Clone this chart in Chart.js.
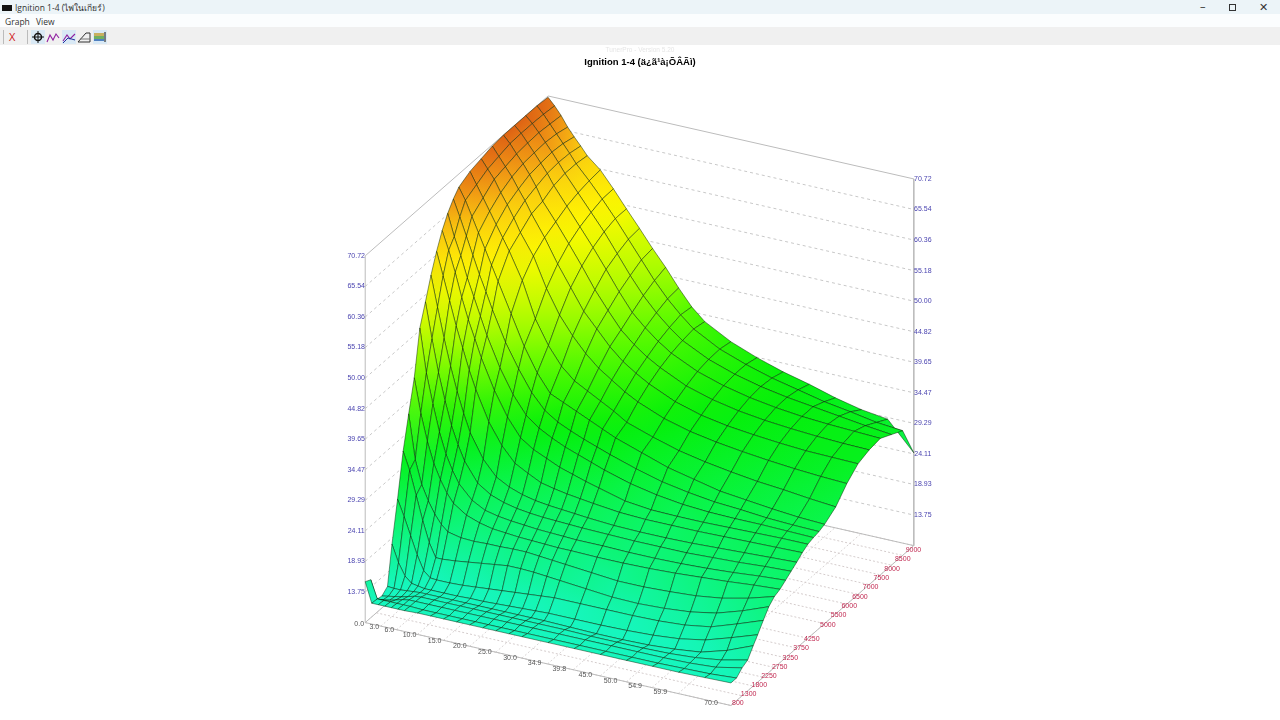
<!DOCTYPE html>
<html><head><meta charset="utf-8">
<style>
html,body{margin:0;padding:0;background:#fff;width:1280px;height:720px;overflow:hidden;font-family:"Open Sans","Noto Sans",sans-serif}
#chartCanvas{position:absolute;left:0;top:0}
.bar{position:absolute;left:0;width:1280px}
.t{position:absolute;white-space:nowrap;color:#333;font-size:8.5px;line-height:12px}
.ic{position:absolute;top:30px;width:14px;height:14px}
.ic svg{display:block}
.on{background:#d9e9f5}
</style></head><body>
<canvas id="chartCanvas" width="1280" height="720"></canvas>
<div class="bar" style="top:0;height:14px;background:#ecf4f8"></div>
<div class="bar" style="top:14px;height:13px;background:#fbfdfe"></div>
<div class="bar" style="top:27px;height:18px;background:#f0f0f0"></div>
<div style="position:absolute;left:2px;top:5px;width:10px;height:6px;background:#111"></div>
<div class="t" style="left:15px;top:2px">Ignition 1-4 (ไฟในเกียร์)</div>
<div class="t" style="left:5px;top:16px">Graph</div>
<div class="t" style="left:36px;top:16px">View</div>
<div class="t" style="left:1200px;top:0;font-size:11px">–</div>
<div style="position:absolute;left:1229px;top:4px;width:5px;height:5px;border:1px solid #333"></div>
<div class="t" style="left:1259px;top:1px;font-size:11px">✕</div>
<div style="position:absolute;left:3px;top:30px;width:1px;height:14px;background:#bbb"></div>
<div style="position:absolute;left:27px;top:30px;width:1px;height:14px;background:#bbb"></div>
<div class="t" style="left:9px;top:31px;font-size:11px;color:#d01818">X</div>
<div class="ic on" style="left:31px"><svg width="14" height="14"><circle cx="7" cy="7" r="3.5" fill="none" stroke="#111" stroke-width="1.5"/><path d="M7 1v12M1 7h12" stroke="#111"/></svg></div>
<div class="ic" style="left:46px"><svg width="14" height="14"><path d="M1 12L4 5L7 10L10 4L13 8" fill="none" stroke="#9020a0" stroke-width="1.1"/></svg></div>
<div class="ic on" style="left:62px"><svg width="14" height="14"><path d="M1 11L5 5L8 9L13 4" fill="none" stroke="#9020a0" stroke-width="1.1"/><path d="M1 13L6 8L13 10" fill="none" stroke="#2030a0"/></svg></div>
<div class="ic" style="left:77px"><svg width="14" height="14"><path d="M1 12L9 3L13 3L13 12Z" fill="none" stroke="#333"/><path d="M3 9H13" stroke="#777"/></svg></div>
<div class="ic on" style="left:93px"><svg width="14" height="14"><rect x="1" y="3" width="10" height="3" fill="#c8b060"/><rect x="1" y="6" width="10" height="3" fill="#70b060"/><rect x="1" y="9" width="10" height="2" fill="#5080c0"/><path d="M12 2V12" stroke="#111"/></svg></div>
<div class="t" style="left:0;width:1280px;text-align:center;top:44px;font-size:6.5px;color:#e6e6e6;font-family:'Liberation Sans'">TunerPro - Version 5.20</div>
<script src="https://cdn.jsdelivr.net/npm/chart.js@4/dist/chart.umd.min.js"></script>
<script>
const loadValues=[0,1.25,2.5,3.75,5,6.25,7.5,10,12.5,15,17.5,20,22.5,25,27.5,30,35,40,45,50,55,60,65,70];
const rpmValues=[800,1050,1300,1550,1800,2000,2250,2500,2750,3000,3250,3500,3750,4000,4250,4500,4750,5000,5500,6000,6500,7000,7500,8000,8500,9000];
const ignition=[
[15.5,12.1,12.1,12.1,12.1,12.1,12.1,12.2,12.2,12.2,12.2,12.2,12.2,12.2,12.2,12.2,12.2,12.2,12.2,12.2,12.2,12.2,12.3,12.4],
[15,12,12,12,12,12,12,11.9,11.9,11.9,11.9,11.9,11.9,11.9,11.9,11.9,11.9,11.9,11.9,11.9,11.9,12,12.1,12.4],
[10.8,11,11.2,11.5,11.8,12,12,12,12,12,12,12,12,12,12,12,12,12,12,12,12,12.1,12.4,13.3],
[10.6,10.8,11,11.2,11.5,11.8,11.9,11.9,11.9,11.9,11.9,11.9,11.9,11.9,11.9,11.9,11.9,11.8,11.8,11.8,11.9,12.2,12.8,13.8],
[11.4,11.3,11.3,11.4,11.5,11.6,11.6,11.6,11.6,11.6,11.6,11.6,11.6,11.6,11.6,11.6,11.5,11.4,11.4,11.5,11.8,12.3,13.6,15.4],
[17.9,15,13,12,11.8,11.6,11.6,11.6,11.6,11.7,11.7,11.8,11.9,12,12.1,12.2,12.2,12.2,12.3,12.5,12.9,13.7,15.1,16.6],
[24.7,22,19,16,13.6,12.6,12.5,12.5,12.6,12.8,13,13.2,13.4,13.6,13.8,14,14,14,14,14.1,14.4,15.1,16.6,18.2],
[32,29,25,21,17.5,15.2,15.2,15.4,15.7,16,16.3,16.6,16.6,16.5,16.3,16.1,15.7,15.3,15.2,15.4,15.8,16.6,18,19.7],
[37.5,30,26,23.5,21.5,20,19,18.5,18.4,18.5,18.5,18.6,18.6,18.4,18.2,18,17.6,17.2,17.2,17.4,17.7,18.3,19.3,20.6],
[42.8,37,32.5,29,26.5,24.5,23,21.5,20.7,20.2,20,19.8,19.7,19.6,19.5,19.5,19.4,19.4,19.5,19.7,20,20.3,20.7,21],
[50.4,43,38,33.5,30,27.5,25.5,23.2,22,21.5,21.2,21,20.8,20.7,20.6,20.5,20.5,20.4,20.4,20.5,20.7,21,21.4,21.7],
[54,48,42.5,38,34,31,28.5,25.3,23.8,23,22.5,22.2,22,21.9,21.8,21.7,21.6,21.5,21.5,21.5,21.7,21.9,22.2,22.4],
[57.7,52.5,47.5,43,39,35.5,32.5,28.5,26,24.8,24,23.5,23.2,23,22.8,22.6,22.3,22.2,22.2,22.3,22.5,22.7,22.9,23.1],
[60.9,57,53,49,45.5,42,39,34,30.5,28,26.8,25.7,25.2,24.8,24.5,24.2,23.7,23.5,23.5,23.5,23.6,23.7,23.8,23.9],
[63.6,60.5,57,53,49.5,46.5,43.5,38.5,34.5,31.5,30,29,28,27.3,26.6,26,24.8,24.3,24.2,24.2,24.3,24.4,24.5,24.5],
[65.7,62,59,55.5,52.5,49.5,46.5,41.5,37.5,34.5,32.8,31.6,30.6,29.8,29,28.2,26.9,26,25.4,25.1,25,25,24.9,24.8],
[67.3,64.5,61.5,58.5,55.5,52.8,50,45,41,37.5,35,33.5,32.5,31.6,30.8,30,28.6,27.4,26.6,26,25.7,25.3,25.1,25],
[68.5,66.5,64,61.5,59,56.5,54,49,44,40,37,36,35,34,33,32,30.5,29,28,27,26.5,26,25.6,25.4],
[69.5,67.5,65.5,63.5,61.5,59.5,57.5,53,47,43,40,38,36.8,35.6,34.4,33,31.5,30.2,29.3,28.6,28,27.6,27.1,26.7],
[70,68.5,67,65,63.2,61.2,59,55.5,50.5,46.5,43.5,41,39,37.5,36,34.8,33,31.8,31,30.4,29.9,29.5,29.2,29],
[70.5,69,67.5,66,64.2,62.5,60.5,57,53,49.5,46,43.5,41,39,37.5,36.2,34.2,32.9,32.1,31.6,31.2,30.9,30.8,30.7],
[70.7,69.5,68,66.6,65,63.2,61,58,54.8,51.5,48,45,42.2,40.2,38.6,37.3,35.2,33.9,33,32.4,32,31.7,31.5,31.4],
[70.7,69.6,68.2,66.8,65.3,63.8,62,59,56,53,49.8,46.5,43.5,41.4,39.6,38.1,36,34.6,33.6,32.9,32.4,32.1,31.9,31.7],
[70.7,69.6,68.3,66.9,65.5,64,62.4,59.6,56.8,54,50.8,47.6,44.7,42.3,40.3,38.6,36.4,34.9,33.8,33,32.4,31.8,31.2,30.7],
[70.7,69.5,68.1,66.7,65.3,63.9,62.4,60,57.4,54.6,51.6,48.6,45.6,43,40.8,38.9,36.5,34.9,33.6,32.6,31.6,30.9,30.1,29.7],
[70.5,69.3,67.9,66.2,64.8,63.5,62.1,60.2,57.5,54.6,51.8,48.9,46.2,43.2,40.5,38.5,36.1,34.4,33,31.9,30.6,29.6,29,24.3]
];
const zTicks=[13.75,18.93,24.11,29.29,34.47,39.65,44.82,50.00,55.18,60.36,65.54,70.72];
const loadTicks=["0.0","3.0","6.0","10.0","15.0","20.0","25.0","30.0","34.9","39.8","45.0","50.0","54.9","59.9","70.0"];
const rpmTicks=[800,1300,1800,2250,2750,3250,3750,4250,5000,5500,6000,6500,7000,7500,8000,8500,9000];
const rampZ=[8,12,18,25,33,40,47,56,63,67,71];
const rampRGB=[[24,245,200],[22,246,190],[15,245,140],[10,245,80],[5,240,10],[80,250,0],[175,252,0],[255,250,0],[250,205,15],[240,150,20],[220,95,20]];

const zMin=8.57,zMax=70.72,loadMax=70,rpmMin=800,rpmMax=9000;
const O=[365,623],UV=[366,83],VV=[183,-160],H=367;
const uOf=l=>l/loadMax, vOf=r=>(r-rpmMin)/(rpmMax-rpmMin), wOf=z=>(z-zMin)/(zMax-zMin);
const P=(u,v,z)=>({x:O[0]+UV[0]*u+VV[0]*v,y:O[1]+UV[1]*u+VV[1]*v-H*wOf(z)});
function color(z){
  for(let i=1;i<rampZ.length;i++){ if(z<=rampZ[i]){const t=(z-rampZ[i-1])/(rampZ[i]-rampZ[i-1]);
    const a=rampRGB[i-1],b=rampRGB[i];return `rgb(${a.map((c,k)=>Math.round(c+(b[k]-c)*t)).join(',')})`;}}
  return 'rgb(220,95,20)';
}
const canvas=document.getElementById('chartCanvas'),ctx2=canvas.getContext('2d');
const ds=[];
const line=(pts,col,dash,w)=>ds.push({type:'scatter',data:pts,showLine:true,fill:false,pointRadius:0,borderColor:col,borderDash:dash||[],borderWidth:w||1,tension:0});
const gridC='#c8c8c8',frameC='#bcbcbc';
for(const t of loadTicks){const u=uOf(+t);line([P(u,0,zMin),P(u,1,zMin)],'#d8d4d4',[2,2]);}
for(const r of rpmTicks){const v=vOf(r);line([P(0,v,zMin),P(1,v,zMin)],'#d4cccc',[2,2]);}
for(const z of zTicks.slice(0,-1)){line([P(0,0,z),P(0,1,z),P(1,1,z)],gridC,[3,3]);}
line([P(0,0,zMin),P(0,0,zMax),P(0,1,zMax),P(1,1,zMax),P(1,1,zMin),P(0,1,zMin)],frameC);
line([P(0,1,zMin),P(0,0,zMin),P(1,0,zMin),P(1,1,zMin)],frameC);
for(let r=rpmValues.length-2;r>=0;r--){
  for(let c=0;c<loadValues.length-1;c++){
    const corners=[[r,c],[r,c+1],[r+1,c+1],[r+1,c]].map(([i,j])=>({z:ignition[i][j],p:P(uOf(loadValues[j]),vOf(rpmValues[i]),ignition[i][j])}));
    let hi=corners[0],lo=corners[0];
    for(const k of corners){if(k.z>hi.z)hi=k;if(k.z<lo.z)lo=k;}
    let fillStyle=color(hi.z);
    if(hi!==lo){
      const g=ctx2.createLinearGradient(hi.p.x,hi.p.y,lo.p.x,lo.p.y);
      g.addColorStop(0,color(hi.z));g.addColorStop(1,color(lo.z));
      fillStyle=g;
    }
    const pts=corners.map(k=>k.p);pts.push(pts[0]);
    ds.push({type:'scatter',data:pts,showLine:true,fill:'shape',backgroundColor:fillStyle,borderColor:'rgba(0,30,0,0.55)',borderWidth:0.85,pointRadius:0,tension:0});
  }
}
const tickLabels={id:'tickLabels',afterDatasetsDraw(ch){
  const c=ch.ctx,X=ch.scales.x,Y=ch.scales.y;
  const put=(t,p,col)=>{c.fillStyle=col;c.fillText(t,X.getPixelForValue(p.x),Y.getPixelForValue(p.y));};
  c.save();c.font='7px "Liberation Sans",Arial,sans-serif';c.textAlign='center';c.textBaseline='middle';
  for(const z of zTicks){const t=z.toFixed(2),a=P(0,0,z),b=P(1,1,z);
    put(t,{x:a.x-9,y:a.y},'#4a44b0');put(t,{x:b.x+9,y:b.y},'#4a44b0');}
  for(const t of loadTicks){const p=P(uOf(+t)*0.962,0,zMin);put(t,{x:p.x-6,y:p.y+1},'#555');}
  for(const r of rpmTicks){const p=P(1,vOf(r)*0.96,zMin);put(String(r),{x:p.x+7,y:p.y-2},'#c02850');}
  c.restore();
}};
const chart=new Chart(canvas,{
  type:'scatter',
  data:{datasets:ds.slice().reverse()},
  plugins:[tickLabels],
  options:{
    responsive:false,animation:false,events:[],devicePixelRatio:1,
    layout:{padding:0},
    plugins:{legend:{display:false},tooltip:{enabled:false},
      title:{display:true,text:'Ignition 1-4 (ä¿ã¹à¡ÕÂÃì)',color:'#000',font:{family:'"Liberation Sans",Arial,sans-serif',size:9.5,weight:'bold'},padding:{top:56.5,bottom:0}}},
    scales:{x:{type:'linear',display:false,min:0,max:1280},y:{type:'linear',display:false,reverse:true,min:0,max:720}}
  }
});
chart.options.scales.y.min=chart.chartArea.top;
chart.update('none');
</script>
</body></html>
